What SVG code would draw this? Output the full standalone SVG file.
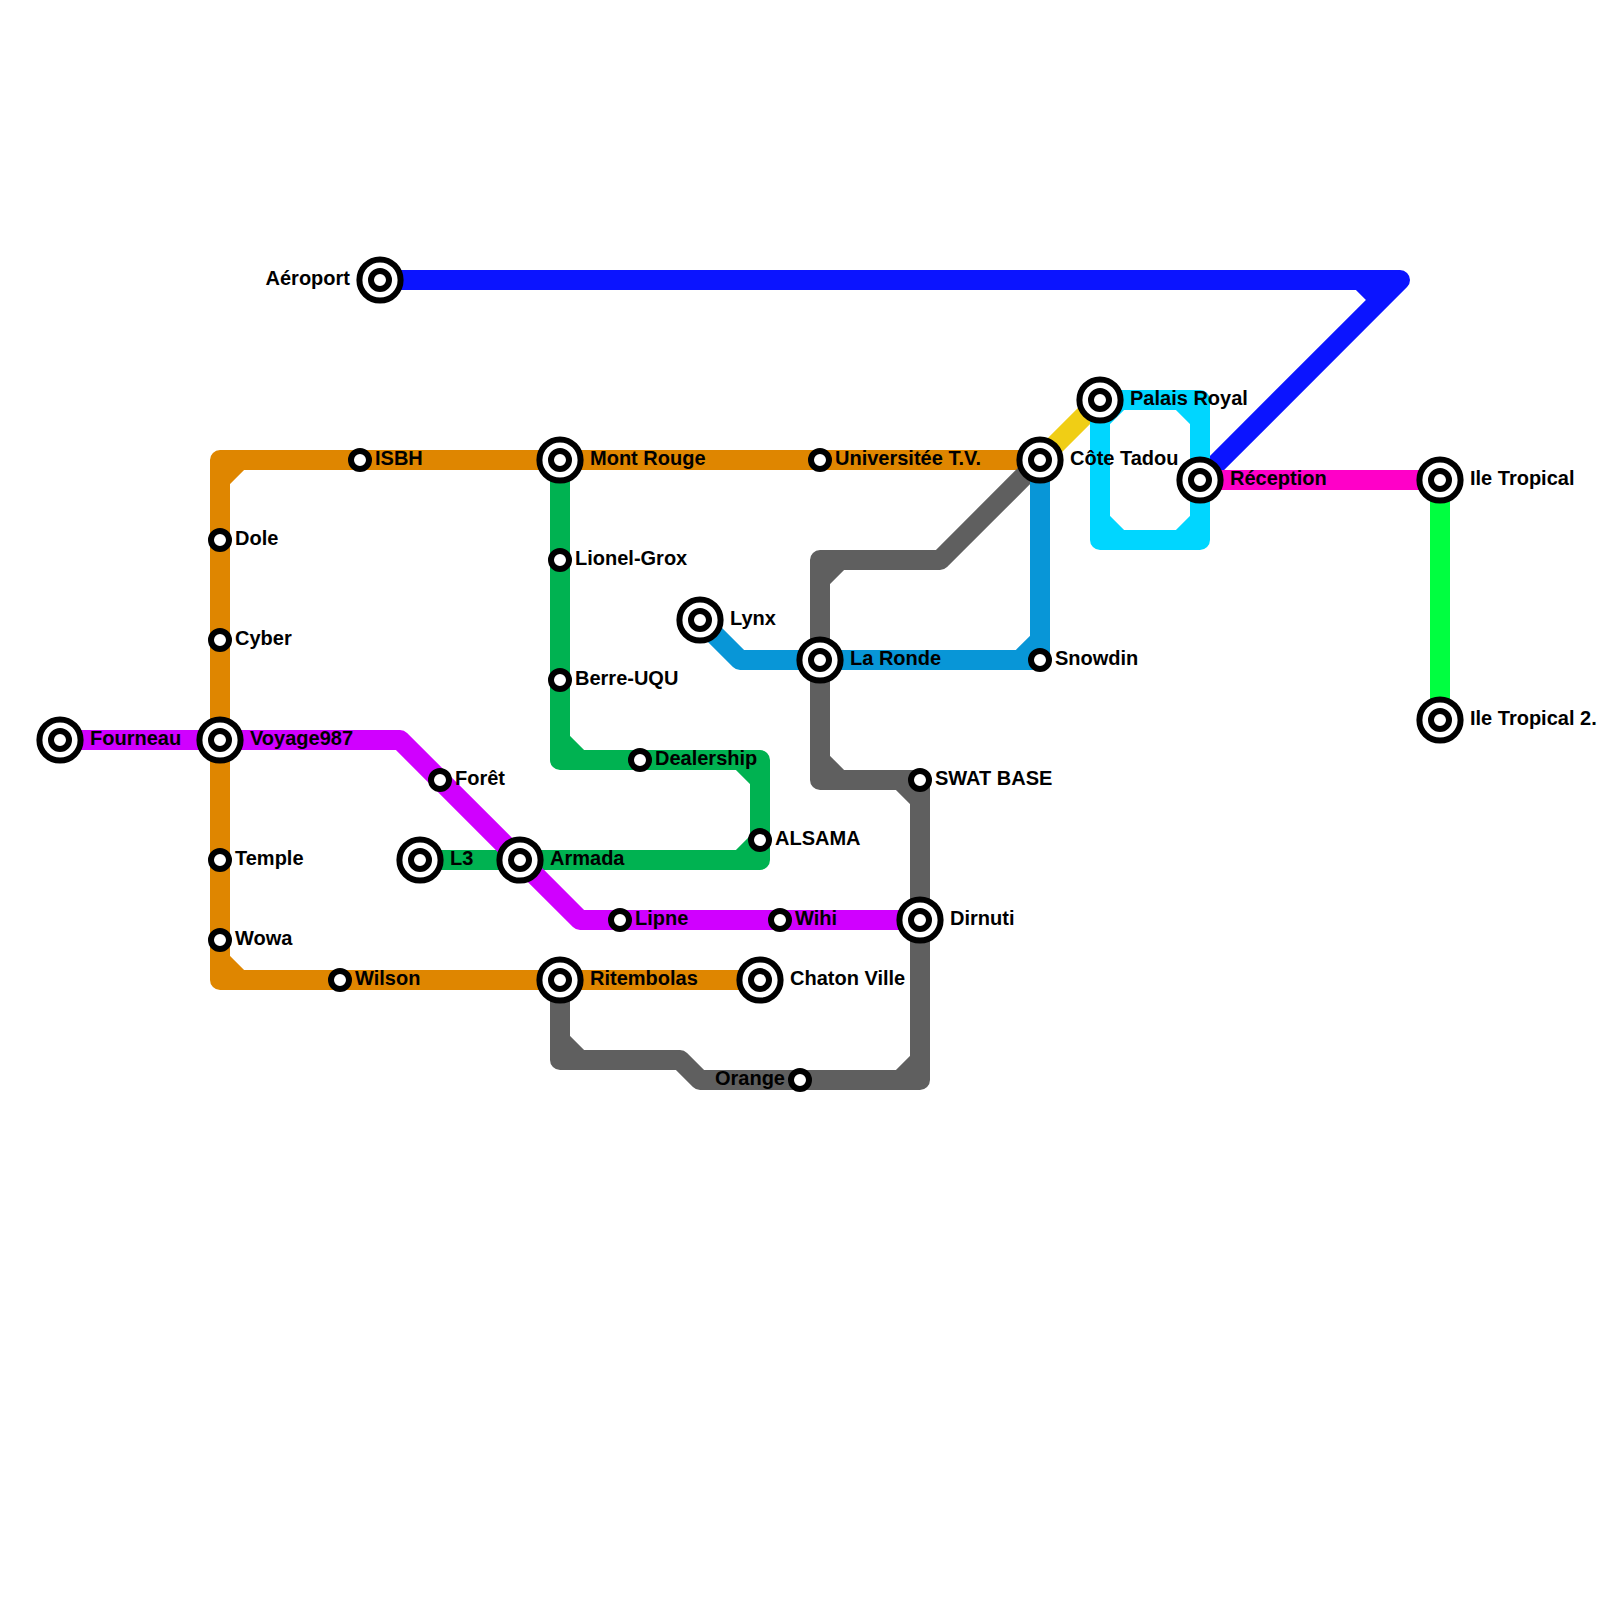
<svg xmlns="http://www.w3.org/2000/svg" width="1600" height="1600" viewBox="0 0 1600 1600">
<style>
.l{fill:none;stroke-width:20;stroke-linejoin:round;stroke-linecap:round}
.o{fill:#fff;stroke:#000;stroke-width:6}
.i{fill:#fff;stroke:#000;stroke-width:6}
text{font-family:"Liberation Sans",Arial,sans-serif;font-weight:700;font-size:20px;fill:#000}
.e{text-anchor:end}
</style>
<defs>
<g id="big"><circle class="o" r="20.6"/><circle class="i" r="9"/></g>
<g id="small"><circle class="i" r="9"/></g>
</defs>
<rect width="1600" height="1600" fill="#fff"/>
<g id="connectors">
<path class="l" stroke="#0b14ff" d="M380 280H1400L1200 480M1360 280H1400L1380 300Z"/>
<path class="l" stroke="#df8600" d="M760 980H220V460H1040M220 960V980H240ZM220 480V460H240Z"/>
<path class="l" stroke="#00b251" d="M560 460V760H760V860H420M560 740V760H580ZM740 760H760V780ZM760 840V860H740Z"/>
<path class="l" stroke="#5f5f5f" d="M560 980V1060H680L700 1080H920V780H820V560H940L1040 460M560 1040V1060H580ZM900 1080H920V1060ZM920 800V780H900ZM840 780H820V760ZM820 580V560H840Z"/>
<path class="l" stroke="#0896d7" d="M700 620L740 660H1040V460M1020 660H1040V640Z"/>
<path class="l" stroke="#d000ff" d="M60 740H400L580 920H920"/>
<path class="l" stroke="#f0ce15" d="M1040 460L1100 400"/>
<path class="l" stroke="#00d6ff" d="M1100 400H1200V540H1100ZM1100 420V400H1120ZM1180 400H1200V420ZM1200 520V540H1180ZM1120 540H1100V520Z"/>
<path class="l" stroke="#ff00c8" d="M1200 480H1440"/>
<path class="l" stroke="#00ff40" d="M1440 480V720"/>
</g>
<g id="aeroport"><use href="#big" x="380" y="280"/><text class="e" x="350" y="285">Aéroport</text></g>
<g id="fourneau"><use href="#big" x="60" y="740"/><text x="90" y="745">Fourneau</text></g>
<g id="voyage987"><use href="#big" x="220" y="740"/><text x="250" y="745">Voyage987</text></g>
<g id="isbh"><use href="#small" x="360" y="460"/><text x="375" y="465">ISBH</text></g>
<g id="dole"><use href="#small" x="220" y="540"/><text x="235" y="545">Dole</text></g>
<g id="cyber"><use href="#small" x="220" y="640"/><text x="235" y="645">Cyber</text></g>
<g id="temple"><use href="#small" x="220" y="860"/><text x="235" y="865">Temple</text></g>
<g id="wowa"><use href="#small" x="220" y="940"/><text x="235" y="945">Wowa</text></g>
<g id="wilson"><use href="#small" x="340" y="980"/><text x="355" y="985">Wilson</text></g>
<g id="ritembolas"><use href="#big" x="560" y="980"/><text x="590" y="985">Ritembolas</text></g>
<g id="chaton-ville"><use href="#big" x="760" y="980"/><text x="790" y="985">Chaton Ville</text></g>
<g id="mont-rouge"><use href="#big" x="560" y="460"/><text x="590" y="465">Mont Rouge</text></g>
<g id="lionel-grox"><use href="#small" x="560" y="560"/><text x="575" y="565">Lionel-Grox</text></g>
<g id="berre-uqu"><use href="#small" x="560" y="680"/><text x="575" y="685">Berre-UQU</text></g>
<g id="dealership"><use href="#small" x="640" y="760"/><text x="655" y="765">Dealership</text></g>
<g id="alsama"><use href="#small" x="760" y="840"/><text x="775" y="845">ALSAMA</text></g>
<g id="armada"><use href="#big" x="520" y="860"/><text x="550" y="865">Armada</text></g>
<g id="l3"><use href="#big" x="420" y="860"/><text x="450" y="865">L3</text></g>
<g id="foret"><use href="#small" x="440" y="780"/><text x="455" y="785">Forêt</text></g>
<g id="lipne"><use href="#small" x="620" y="920"/><text x="635" y="925">Lipne</text></g>
<g id="wihi"><use href="#small" x="780" y="920"/><text x="795" y="925">Wihi</text></g>
<g id="dirnuti"><use href="#big" x="920" y="920"/><text x="950" y="925">Dirnuti</text></g>
<g id="orange"><use href="#small" x="800" y="1080"/><text class="e" x="785" y="1085">Orange</text></g>
<g id="swat-base"><use href="#small" x="920" y="780"/><text x="935" y="785">SWAT BASE</text></g>
<g id="lynx"><use href="#big" x="700" y="620"/><text x="730" y="625">Lynx</text></g>
<g id="la-ronde"><use href="#big" x="820" y="660"/><text x="850" y="665">La Ronde</text></g>
<g id="snowdin"><use href="#small" x="1040" y="660"/><text x="1055" y="665">Snowdin</text></g>
<g id="universitee"><use href="#small" x="820" y="460"/><text x="835" y="465">Universitée T.V.</text></g>
<g id="cote-tadou"><use href="#big" x="1040" y="460"/><text x="1070" y="465">Côte Tadou</text></g>
<g id="palais-royal"><use href="#big" x="1100" y="400"/><text x="1130" y="405">Palais Royal</text></g>
<g id="reception"><use href="#big" x="1200" y="480"/><text x="1230" y="485">Réception</text></g>
<g id="ile-tropical"><use href="#big" x="1440" y="480"/><text x="1470" y="485">Ile Tropical</text></g>
<g id="ile-tropical-2"><use href="#big" x="1440" y="720"/><text x="1470" y="725">Ile Tropical 2.</text></g>
</svg>
